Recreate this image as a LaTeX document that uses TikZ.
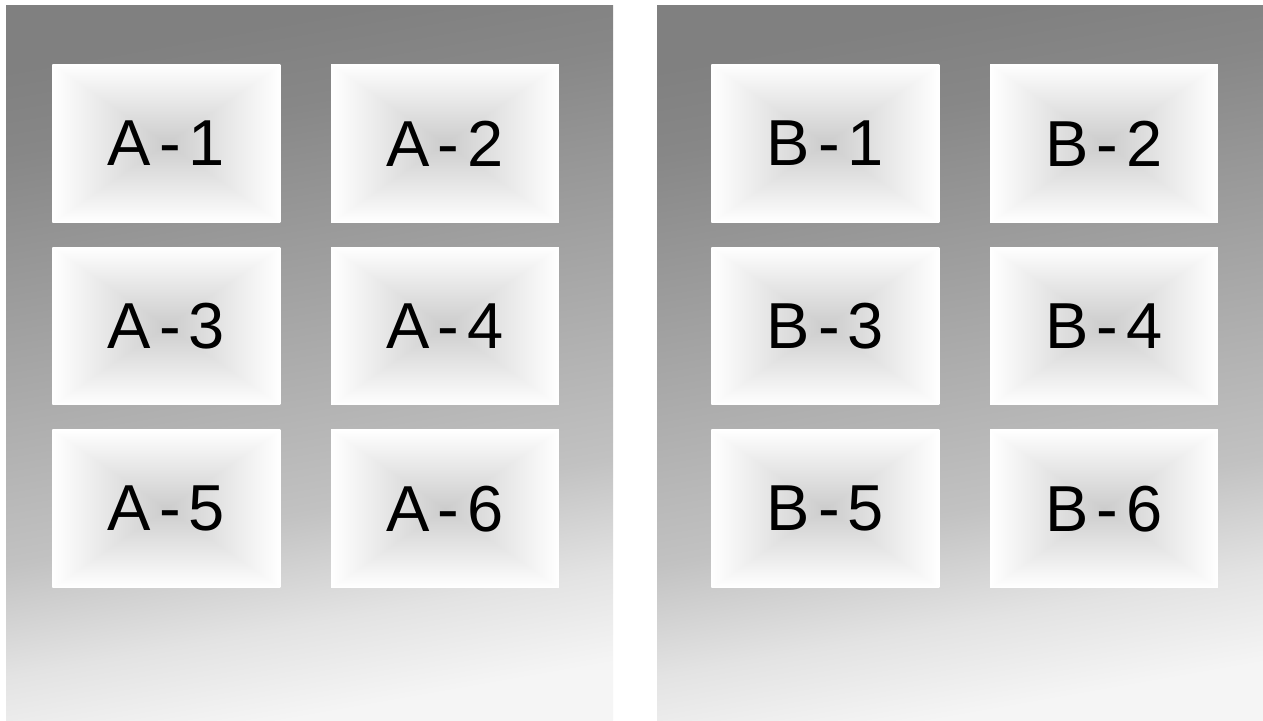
\documentclass[tikz,border=0pt]{standalone}
\usepackage{fontspec}
\setmainfont{Liberation Sans}
\usetikzlibrary{positioning}

% white rim fading to grey in the middle of each tile
\pgfdeclarefunctionalshading{tilefade}{\pgfpoint{-50bp}{-50bp}}{\pgfpoint{50bp}{50bp}}{}{
  abs exch abs 2 copy lt {exch} if pop 25 div dup 1 gt {pop 1} if
  0.2 mul 0.8 add dup dup
}
% panel background, darker at the top
\pgfdeclareverticalshading{panelfade}{100bp}{
  color(0bp)=(black!4); color(25bp)=(black!4); color(31.5bp)=(black!11);
  color(39.4bp)=(black!24); color(61bp)=(black!41); color(68.5bp)=(black!47);
  color(75bp)=(black!50); color(100bp)=(black!50)}

\newcommand{\tilelabel}[2]{#1\hspace{.12em}-\hspace{.12em}#2}

\begin{document}
\begin{tikzpicture}[x=0.02cm, y=-0.02cm,
  panel/.style={shading=panelfade, shading angle=10},
  tile/.style={rectangle, minimum width=4.56cm, minimum height=3.16cm,
               inner sep=0pt, shade, shading=tilefade,
               font=\fontsize{37}{37}\selectfont},
  node distance=0.48cm and 1cm,
]
  \useasboundingbox (0,0) rectangle (1263,720);
  \fill[white] (0,0) rectangle (1263,720);

  % panels
  \shade[panel] (6,5) rectangle (613,720);
  \shade[panel] (657,5) rectangle (1263,720);

  % group A
  \node[tile, anchor=north west] (a1) at (52,64) {\tilelabel{A}{1}};
  \node[tile, right=of a1] (a2) {\tilelabel{A}{2}};
  \node[tile, below=of a1] (a3) {\tilelabel{A}{3}};
  \node[tile, right=of a3] (a4) {\tilelabel{A}{4}};
  \node[tile, below=of a3] (a5) {\tilelabel{A}{5}};
  \node[tile, right=of a5] (a6) {\tilelabel{A}{6}};

  % group B
  \node[tile, anchor=north west] (b1) at (711,64) {\tilelabel{B}{1}};
  \node[tile, right=of b1] (b2) {\tilelabel{B}{2}};
  \node[tile, below=of b1] (b3) {\tilelabel{B}{3}};
  \node[tile, right=of b3] (b4) {\tilelabel{B}{4}};
  \node[tile, below=of b3] (b5) {\tilelabel{B}{5}};
  \node[tile, right=of b5] (b6) {\tilelabel{B}{6}};
\end{tikzpicture}
\end{document}
